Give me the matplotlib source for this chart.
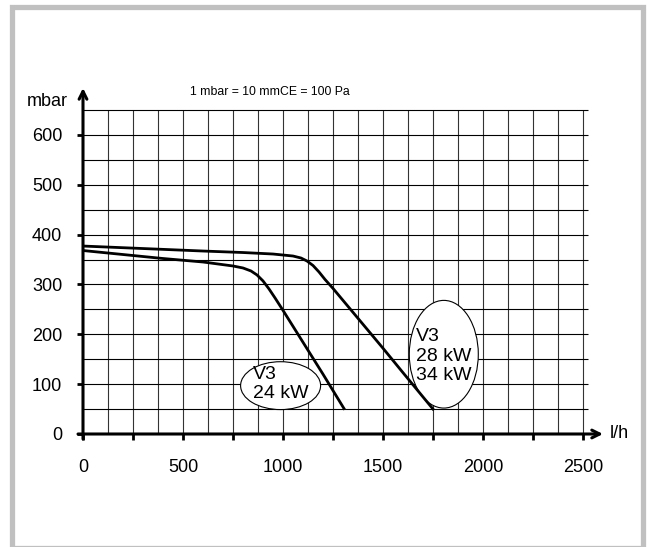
import matplotlib
matplotlib.use("Agg")
import matplotlib.pyplot as plt
from matplotlib.patches import Ellipse, Rectangle

# curva V3 24 kW (l/h, mbar)
caudal_24 = [0, 200, 400, 600, 750, 800, 840, 870, 900, 930, 960, 1000, 1100, 1200, 1305]
presion_24 = [368, 360, 352, 345, 337, 333, 327, 319, 307, 291, 273, 248, 184, 120, 51]

# curva V3 28 kW / 34 kW
caudal_28 = [0, 300, 600, 800, 950, 1050, 1090, 1120, 1150, 1180, 1210, 1250, 1300, 1400, 1500, 1600, 1750]
presion_28 = [377, 372, 367, 364, 361, 357, 353, 347, 338, 325, 310, 292, 268, 220, 172, 123, 50]

xticks = [0, 500, 1000, 1500, 2000, 2500]
xticks_menores = [250, 750, 1250, 1750, 2250]
yticks = [0, 100, 200, 300, 400, 500, 600]

plt.rcParams['font.family'] = ['Liberation Sans', 'DejaVu Sans']

W, H = 653, 547
fig = plt.figure(figsize=(W / 100, H / 100), dpi=100)

# marco gris
fig.add_artist(Rectangle((12 / W, -1 / H), 630.5 / W, (H - 5.5) / H,
                         transform=fig.transFigure, fill=False,
                         edgecolor='#c0c0c0', lw=3.8))

# ejes: x 0..2600 -> 83..603 px, y 0..694 -> 434..88 px
ax = fig.add_axes([83 / W, (H - 434) / H, 520 / W, 346 / H])
ax.set_xlim(0, 2600)
ax.set_ylim(0, 694)
for s in ax.spines.values():
    s.set_visible(False)

# cuadricula
ax.vlines(range(125, 2501, 125), 0, 650, color='#333333', lw=0.8, zorder=1)
ax.hlines(range(50, 651, 50), 0, 2525, color='black', lw=0.8, zorder=1)

# ejes con flecha
ax.annotate('', xy=(2600, 0), xytext=(-25, 0), annotation_clip=False,
            arrowprops=dict(arrowstyle='->', lw=2.2, color='black', mutation_scale=14,
                            shrinkA=0, shrinkB=0))
ax.annotate('', xy=(0, 694), xytext=(0, -10), annotation_clip=False,
            arrowprops=dict(arrowstyle='->', lw=2.2, color='black', mutation_scale=14,
                            shrinkA=0, shrinkB=0))

ax.set_xticks(xticks)
ax.set_xticks(xticks_menores, minor=True)
ax.set_yticks(yticks)
ax.tick_params(axis='x', which='both', direction='out', length=4, width=2, pad=14, labelsize=13)
ax.tick_params(axis='x', which='minor', labelbottom=False)
ax.tick_params(axis='y', direction='out', length=4, width=2, pad=11, labelsize=13)

# ovalos con texto
ax.add_patch(Ellipse((988, 97), 400, 96, facecolor='white', edgecolor='black', lw=0.8, zorder=2))
ax.add_patch(Ellipse((1804, 160), 345, 216, facecolor='white', edgecolor='black', lw=0.8, zorder=2))
ax.text(852, 100, 'V3\n24 kW', fontsize=14, ha='left', va='center', linespacing=1.2, zorder=3)
ax.text(1665, 156, 'V3\n28 kW\n34 kW', fontsize=14, ha='left', va='center', linespacing=1.2, zorder=3)

# curvas
ax.plot(caudal_24, presion_24, color='black', lw=2, zorder=4)
ax.plot(caudal_28, presion_28, color='black', lw=2, zorder=4)

# textos
ax.text(-180, 667, 'mbar', fontsize=13, ha='center', va='center', clip_on=False)
ax.text(2635, 0, 'l/h', fontsize=13, ha='left', va='center', clip_on=False)
ax.text(935, 686, '1 mbar = 10 mmCE = 100 Pa', fontsize=8.8, ha='center', va='center',
        clip_on=False)

fig.savefig('out.png', dpi=100)
